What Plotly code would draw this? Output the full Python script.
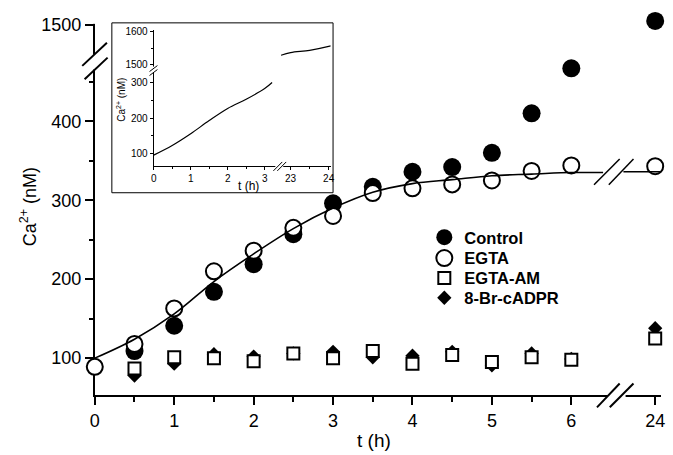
import plotly.graph_objects as go

# ---------------- data ----------------
control_t = [0.5, 1, 1.5, 2, 2.5, 3, 3.5, 4, 4.5, 5, 5.5, 6, 24]
control_ca = [109, 141, 184, 219, 257, 296, 317, 336, 342, 360, 410, 467, 1505]

egta_t = [0, 0.5, 1, 1.5, 2, 2.5, 3, 3.5, 4, 4.5, 5, 5.5, 6, 24]
egta_ca = [89, 118, 163, 210, 236, 265, 280, 309, 315, 320, 325, 337, 344, 343]

egtaam_t = [0.5, 1, 1.5, 2, 2.5, 3, 3.5, 4, 4.5, 5, 5.5, 6, 24]
egtaam_ca = [87, 101, 100, 96, 106, 100, 109, 93, 104, 95, 101, 98, 125]

brcadpr_t = [0.5, 1, 1.5, 2, 2.5, 3, 3.5, 4, 4.5, 5, 5.5, 6, 24]
brcadpr_ca = [78, 93, 105, 102, 106, 108, 101, 103, 108, 91, 106, 99, 138]

fit_t = [0, 0.5, 1, 1.5, 2, 2.5, 3, 3.5, 4, 4.5, 5, 5.5, 6, 6.4, None, 23.6, 24.07]
fit_ca = [100, 124, 156, 197, 232, 264, 290, 310, 321, 326, 331, 333, 335, 335, None, 336, 336]

inset_t = [0, 0.5, 1, 1.5, 2, 2.5, 3, 3.2, None, 22.75, 23, 23.5, 24, 24.06]
inset_ca = [96, 123, 156, 193, 227, 253, 283, 300, None, 1528, 1536, 1543, 1555, 1557]

main_xticks = [0, 1, 2, 3, 4, 5, 6, 24]
main_yticks = [100, 200, 300, 400, 1500]
inset_xticks = [0, 1, 2, 3, 23, 24]
inset_yticks = [100, 200, 300, 1500, 1600]

# ---------------- broken-axis transforms ----------------
X24 = 7.056      # axis position where t = 24 h sits (main)
Y1500 = 522.0    # axis position where 1500 nM sits (main)
YPX = 0.795      # pixels per nM on the main y axis


def xmap(t):
    if t is None:
        return None
    return t if t < 12 else t - 24 + X24


def ymap(v):
    if v is None:
        return None
    return v if v < 1000 else v - 1500 + Y1500


def xmap2(t):
    if t is None:
        return None
    return t if t < 12 else 3.70 + (t - 23) * 1.03


def ymap2(v):
    if v is None:
        return None
    return v if v < 1000 else 351 + (v - 1500) * 0.914


W, H = 673, 455


def px(x):
    return x / W


def py(y):
    return (H - y) / H


FONT = "Liberation Sans, Arial, sans-serif"

fig = go.Figure()

fig.add_trace(go.Scatter(
    x=[xmap(t) for t in control_t], y=[ymap(v) for v in control_ca],
    mode="markers", name="Control", legend="legend", cliponaxis=False,
    marker=dict(symbol="circle", size=18, color="black", line=dict(width=0)),
))
fig.add_trace(go.Scatter(
    x=[xmap(t) for t in egta_t], y=[ymap(v) for v in egta_ca],
    mode="markers", name="EGTA", legend="legend2", cliponaxis=False,
    marker=dict(symbol="circle", size=16, color="white", line=dict(width=2, color="black")),
))
fig.add_trace(go.Scatter(
    x=[xmap(t) for t in brcadpr_t], y=[ymap(v) for v in brcadpr_ca],
    mode="markers", name="8-Br-cADPR", legend="legend4", cliponaxis=False,
    marker=dict(symbol="diamond", size=11, color="black", line=dict(width=0)),
))
fig.add_trace(go.Scatter(
    x=[xmap(t) for t in egtaam_t], y=[ymap(v) for v in egtaam_ca],
    mode="markers", name="EGTA-AM", legend="legend3", cliponaxis=False,
    marker=dict(symbol="square", size=12, color="white", line=dict(width=2, color="black")),
))
fig.add_trace(go.Scatter(
    x=[xmap(t) for t in fit_t], y=[ymap(v) for v in fit_ca],
    mode="lines", showlegend=False, connectgaps=False, cliponaxis=False,
    line=dict(color="black", width=1.6, shape="spline"),
))
fig.add_trace(go.Scatter(
    x=[xmap2(t) for t in inset_t], y=[ymap2(v) for v in inset_ca],
    xaxis="x2", yaxis="y2",
    mode="lines", showlegend=False, connectgaps=False,
    line=dict(color="black", width=1.2, shape="spline"),
))

axis_common = dict(showgrid=False, zeroline=False, showline=True, linecolor="black",
                   ticks="outside", tickcolor="black", layer="below traces")


def legend_at(row_y):
    return dict(
        x=px(425), y=py(row_y), xanchor="left", yanchor="middle",
        bgcolor="rgba(0,0,0,0)", borderwidth=0,
        font=dict(size=16.5, family=FONT, weight="bold", color="black"),
        itemsizing="trace",
    )


# the y range runs a little past 1500 so the 24 h control point is not dropped;
# the extra piece of axis line is hidden by a white strip below
Y_EXTRA = 15
y_top_px = 22 - Y_EXTRA * YPX

fig.update_layout(
    width=W, height=H,
    margin=dict(l=0, r=0, t=0, b=0),
    paper_bgcolor="white", plot_bgcolor="white",
    font=dict(family=FONT, color="black"),
    xaxis=dict(
        **axis_common, domain=[px(91), px(665)], range=[0, (665 - 91) / 80.5],
        linewidth=2, tickwidth=2, ticklen=8,
        tickvals=[xmap(t) for t in main_xticks], ticktext=[str(t) for t in main_xticks],
        tickfont=dict(size=18, family=FONT),
        minor=dict(tickvals=[0.5, 1.5, 2.5, 3.5, 4.5, 5.5], ticklen=5, tickwidth=2,
                   ticks="outside", tickcolor="black"),
        anchor="y",
    ),
    yaxis=dict(
        **axis_common, domain=[py(395), py(y_top_px)],
        range=[100 - (395 - 357.5) / YPX, Y1500 + Y_EXTRA],
        linewidth=2, tickwidth=2, ticklen=8,
        tickvals=[ymap(v) for v in main_yticks], ticktext=[str(v) for v in main_yticks],
        tickfont=dict(size=18, family=FONT),
        minor=dict(tickvals=[150, 250, 350, 450], ticklen=4, tickwidth=2,
                   ticks="outside", tickcolor="black"),
        anchor="x",
    ),
    xaxis2=dict(
        **axis_common, domain=[px(150.7), px(330)], range=[0, (330 - 150.7) / 37.5],
        linewidth=1, tickwidth=1, ticklen=3,
        tickvals=[xmap2(t) for t in inset_xticks], ticktext=[str(t) for t in inset_xticks],
        tickfont=dict(size=10, family=FONT),
        minor=dict(tickvals=[0.5, 1.5, 2.5, xmap2(23.5)], ticklen=2, tickwidth=1,
                   ticks="outside", tickcolor="black"),
        anchor="y2",
    ),
    yaxis2=dict(
        **axis_common, domain=[py(164.3), py(27)], range=[64.8, 448],
        linewidth=1, tickwidth=1, ticklen=3,
        tickvals=[ymap2(v) for v in inset_yticks], ticktext=[str(v) for v in inset_yticks],
        tickfont=dict(size=10, family=FONT),
        minor=dict(tickvals=[150, 250, ymap2(1550)], ticklen=2, tickwidth=1,
                   ticks="outside", tickcolor="black"),
        anchor="x2",
    ),
    legend=legend_at(236),
    legend2=legend_at(257),
    legend3=legend_at(277),
    legend4=legend_at(297),
)

# ---------------- decorations: axis breaks, inset frame ----------------
shapes = []


def seg(x0, y0, x1, y1, w):
    shapes.append(dict(type="line", xref="paper", yref="paper",
                       x0=px(x0), y0=py(y0), x1=px(x1), y1=py(y1),
                       line=dict(color="black", width=w), layer="above"))


def gap(x0, y0, x1, y1):
    shapes.append(dict(type="rect", xref="paper", yref="paper",
                       x0=px(x0), y0=py(y0), x1=px(x1), y1=py(y1),
                       fillcolor="white", line=dict(width=0), layer="above"))


# hide the axis line above the 1500 tick
gap(86, 21, 96, 0)
# main y-axis break
gap(87, 67, 95, 52)
seg(78.3, 63.3, 103.3, 40, 2)
seg(80.7, 76.7, 104, 55, 2)
# main x-axis break
gap(611, 399, 629, 391)
seg(600, 407, 623, 383, 2)
seg(613, 407, 637, 383, 2)
# break marks on the fitted curve
seg(597, 183, 623, 157, 1.5)
seg(612, 183, 637, 157, 1.5)
# inset frame
shapes.append(dict(type="rect", xref="paper", yref="paper",
                   x0=px(108.3), y0=py(191), x1=px(332.5), y1=py(20),
                   line=dict(color="black", width=1), fillcolor="rgba(0,0,0,0)", layer="above"))
# inset x break
gap(274, 167, 282, 162)
seg(272, 169, 281, 160, 1)
seg(276, 169, 285, 160, 1)
# inset y break
gap(148, 70, 153, 64)
seg(146.5, 69, 154.5, 63, 1)
seg(146.5, 73, 154.5, 67, 1)

fig.update_layout(shapes=shapes)

annotations = [
    dict(text="Ca<sup>2+</sup> (nM)", x=px(24), y=py(205), textangle=-90,
         font=dict(size=18, family=FONT)),
    dict(text="t (h)", x=px(374), y=py(440), font=dict(size=19, family=FONT)),
    dict(text="Ca<sup>2+</sup> (nM)", x=px(118), y=py(97), textangle=-90,
         font=dict(size=10, family=FONT)),
    dict(text="t (h)", x=px(247), y=py(184), font=dict(size=12, family=FONT)),
]
for a in annotations:
    a.update(xref="paper", yref="paper", showarrow=False, xanchor="center", yanchor="middle")
fig.update_layout(annotations=annotations)

fig.write_html(
    "out.html",
    config={"displayModeBar": False},
    post_script="document.body.style.margin='0';document.body.style.overflow='hidden';",
)
